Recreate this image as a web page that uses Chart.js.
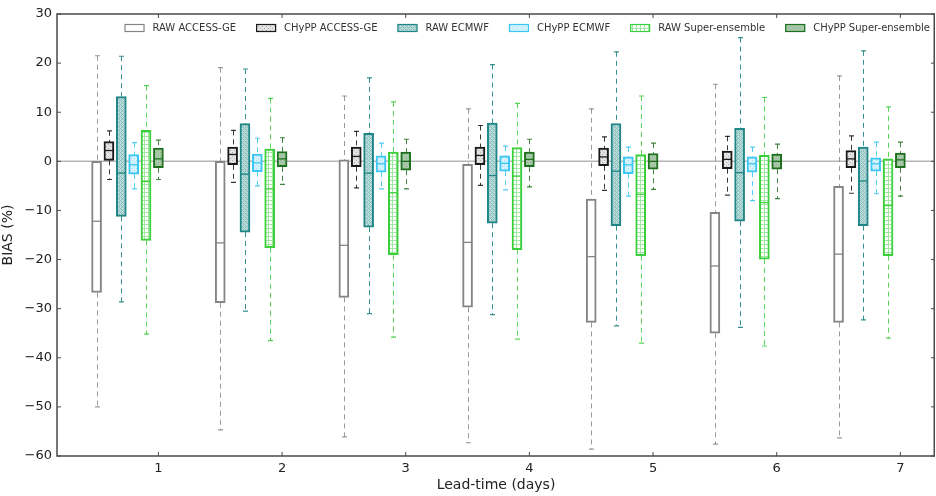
<!DOCTYPE html>
<html>
<head>
<meta charset="utf-8">
<script src="https://cdn.jsdelivr.net/npm/chart.js@4/dist/chart.umd.min.js"></script>
<style>
  body { margin: 0; background: #fff; }
  #wrap { width: 936px; height: 496px; }
</style>
</head>
<body>
<div id="wrap"><canvas id="chart" width="936" height="496"></canvas></div>
<script>
// lead-time days and box offsets per series
const days = [1, 2, 3, 4, 5, 6, 7];
const offsets = [-0.5, -0.4, -0.3, -0.2, -0.1, 0];
const yTicks = [30, 20, 10, 0, -10, -20, -30, -40, -50, -60];

// [whisker low, q1, median, q3, whisker high] for each day
const rawAccess = [
  [-50, -26.7, -12.2, 0, 21.5],
  [-54.7, -28.8, -16.6, 0, 19.1],
  [-56.1, -27.7, -17.1, 0.3, 13.3],
  [-57.3, -29.7, -16.5, -0.6, 10.7],
  [-58.6, -32.8, -19.4, -7.7, 10.7],
  [-57.6, -35, -21.3, -10.4, 15.7],
  [-56.3, -32.8, -18.9, -5.1, 17.4],
];
const chyppAccess = [
  [-3.7, 0.2, 2.2, 4.0, 6.2],
  [-4.3, -0.7, 1.4, 2.9, 6.3],
  [-5.4, -1.1, 1.0, 2.9, 6.1],
  [-4.9, -0.7, 1.2, 2.9, 7.3],
  [-5.9, -0.9, 0.9, 2.7, 5.0],
  [-6.9, -1.5, 0.4, 2.1, 5.1],
  [-6.5, -1.3, 0.5, 2.2, 5.2],
];
const rawEcmwf = [
  [-28.6, -11.2, -2.4, 13.2, 21.4],
  [-30.5, -14.4, -2.6, 7.7, 18.8],
  [-31, -13.4, -2.4, 5.7, 17.0],
  [-31.2, -12.6, -2.9, 7.8, 19.7],
  [-33.5, -13.1, -2.0, 7.7, 22.3],
  [-33.8, -12.2, -2.3, 6.7, 25.2],
  [-32.3, -13.1, -4.0, 2.9, 22.5],
];
const chyppEcmwf = [
  [-5.6, -2.6, -0.7, 1.4, 3.8],
  [-5.0, -2.1, -0.3, 1.5, 4.7],
  [-5.6, -2.2, -0.5, 1.1, 3.7],
  [-5.8, -2.0, -0.4, 1.1, 3.1],
  [-7.1, -2.5, -0.7, 0.9, 2.9],
  [-8.0, -2.2, -0.5, 0.9, 2.9],
  [-6.6, -2.0, -0.5, 0.7, 3.9],
];
const rawSuper = [
  [-35.2, -16.1, -4.1, 6.3, 15.4],
  [-36.5, -17.6, -5.6, 2.5, 12.8],
  [-35.8, -19, -6.4, 1.9, 12.1],
  [-36.2, -18, -3, 2.8, 11.8],
  [-37, -19.2, -6.7, 1.4, 13.3],
  [-37.6, -19.9, -8.4, 1.2, 13.0],
  [-36, -19.2, -9.0, 0.5, 11.1],
];
const chyppSuper = [
  [-3.7, -1.3, 0.5, 2.7, 4.3],
  [-4.7, -1.1, 0.5, 2.0, 4.8],
  [-5.6, -1.8, 0, 1.9, 4.5],
  [-5.2, -1.1, 0.4, 1.9, 4.5],
  [-5.7, -1.6, 0, 1.6, 3.7],
  [-7.6, -1.6, 0, 1.5, 3.5],
  [-7.1, -1.3, 0.3, 1.7, 3.9],
];

// small repeating fills, roughly like the hatches in the figure
function pattern(base, ink, kind) {
  const c = document.createElement('canvas');
  c.width = 4; c.height = 4;
  const g = c.getContext('2d');
  g.fillStyle = base; g.fillRect(0, 0, 4, 4);
  g.fillStyle = ink;
  if (kind === 'grid') {
    g.fillRect(0, 0, 4, 1); g.fillRect(0, 0, 1, 4);
  } else if (kind === 'cross') {
    g.fillRect(0, 0, 1, 1); g.fillRect(2, 2, 1, 1); g.fillRect(1, 1, 1, 1); g.fillRect(3, 3, 1, 1);
    g.fillRect(3, 1, 1, 1); g.fillRect(1, 3, 1, 1);
  } else {
    g.fillRect(0, 0, 1, 1); g.fillRect(2, 2, 1, 1);
  }
  return g.createPattern(c, 'repeat');
}

const series = [
  { label: 'RAW ACCESS-GE', stats: rawAccess, border: '#858585', fill: '#ffffff', whisker: 'rgba(120,120,120,0.75)' },
  { label: 'CHyPP ACCESS-GE', stats: chyppAccess, border: '#1a1a1a', fill: pattern('#e4e4e4', '#b0b0b0', 'dots'), whisker: 'rgba(20,20,20,0.85)' },
  { label: 'RAW ECMWF', stats: rawEcmwf, border: '#1f8585', fill: pattern('#bcdcdc', '#86bdbd', 'cross'), whisker: 'rgba(31,133,133,0.9)' },
  { label: 'CHyPP ECMWF', stats: chyppEcmwf, border: '#3cc6f2', fill: pattern('#d6f3fd', '#9adff6', 'dots'), whisker: 'rgba(60,198,242,0.9)' },
  { label: 'RAW Super-ensemble', stats: rawSuper, border: '#3ccf3c', fill: pattern('#ffffff', '#9fe89f', 'grid'), whisker: 'rgba(60,207,60,0.85)' },
  { label: 'CHyPP Super-ensemble', stats: chyppSuper, border: '#1d701d', fill: pattern('#aac9aa', '#8cb48c', 'dots'), whisker: 'rgba(29,112,29,0.85)' },
];

const boxPlot = {
  id: 'boxPlot',
  beforeDatasetsDraw(chart) {
    const { ctx, chartArea: a, scales: { x, y } } = chart;
    ctx.save();
    ctx.strokeStyle = '#b6b6b6';
    ctx.lineWidth = 1.5;
    ctx.beginPath();
    ctx.moveTo(a.left, y.getPixelForValue(0));
    ctx.lineTo(a.right, y.getPixelForValue(0));
    ctx.stroke();
    series.forEach((s, si) => {
      s.stats.forEach((st, di) => {
        const px = Math.round(x.getPixelForValue(days[di] + offsets[si])) + 0.5;
        const [lo, q1, , q3, hi] = st;
        ctx.strokeStyle = s.whisker;
        ctx.lineWidth = 1;
        ctx.setLineDash([5, 4]);
        ctx.beginPath();
        ctx.moveTo(px, y.getPixelForValue(hi)); ctx.lineTo(px, y.getPixelForValue(q3));
        ctx.moveTo(px, y.getPixelForValue(q1)); ctx.lineTo(px, y.getPixelForValue(lo));
        ctx.stroke();
        ctx.setLineDash([]);
        ctx.lineWidth = 1.2;
        ctx.beginPath();
        [hi, lo].forEach(v => {
          const py = y.getPixelForValue(v);
          ctx.moveTo(px - 2.5, py); ctx.lineTo(px + 2.5, py);
        });
        ctx.stroke();
      });
    });
    ctx.restore();
  },
  afterDatasetsDraw(chart) {
    const { ctx, scales: { x, y } } = chart;
    ctx.save();
    series.forEach((s, si) => {
      ctx.strokeStyle = s.border;
      ctx.lineWidth = 1.3;
      s.stats.forEach((st, di) => {
        const px = x.getPixelForValue(days[di] + offsets[si]);
        const py = y.getPixelForValue(st[2]);
        ctx.beginPath();
        ctx.moveTo(px - 4.5, py); ctx.lineTo(px + 4.5, py);
        ctx.stroke();
      });
    });
    ctx.restore();
  },
  afterDraw(chart) {
    const { ctx, chartArea: a, scales: { x, y } } = chart;
    ctx.save();
    // frame and inward ticks
    ctx.strokeStyle = '#4a4a4a';
    ctx.lineWidth = 1.5;
    ctx.strokeRect(a.left, a.top, a.right - a.left - 0.75, a.bottom - a.top);
    ctx.lineWidth = 1;
    ctx.beginPath();
    days.forEach(d => {
      const px = x.getPixelForValue(d);
      ctx.moveTo(px, a.bottom); ctx.lineTo(px, a.bottom - 4);
      ctx.moveTo(px, a.top); ctx.lineTo(px, a.top + 4);
    });
    yTicks.forEach(v => {
      const py = y.getPixelForValue(v);
      ctx.moveTo(a.left, py); ctx.lineTo(a.left + 4, py);
      ctx.moveTo(a.right, py); ctx.lineTo(a.right - 4, py);
    });
    ctx.stroke();

    // legend inside the top of the plot
    ctx.font = '10px "DejaVu Sans"';
    ctx.textBaseline = 'middle';
    const gap = 20, box = 20, pad = 8;
    const widths = series.map(s => box + pad + ctx.measureText(s.label).width);
    let px = a.right - 5 - widths.reduce((t, w) => t + w, 0) - gap * (series.length - 1);
    const cy = a.top + 14;
    series.forEach((s, i) => {
      ctx.fillStyle = s.fill;
      ctx.fillRect(px, cy - 4, box, 8);
      ctx.strokeStyle = s.border;
      ctx.lineWidth = 1.2;
      ctx.strokeRect(px + 0.5, cy - 3.5, box - 1, 7);
      ctx.fillStyle = '#333';
      ctx.fillText(s.label, px + box + pad, cy + 0.5);
      px += widths[i] + gap;
    });
    ctx.restore();
  }
};

new Chart(document.getElementById('chart'), {
  type: 'bar',
  data: {
    datasets: series.map((s, si) => ({
      label: s.label,
      data: days.map((d, di) => ({ x: d + offsets[si], y: [s.stats[di][1], s.stats[di][3]] })),
      backgroundColor: s.fill,
      borderColor: s.border,
      borderWidth: 2,
      borderSkipped: false,
      barThickness: 10,
      grouped: false,
    })),
  },
  options: {
    responsive: false,
    animation: false,
    layout: { padding: { top: 14, right: 1, left: 0, bottom: 0 } },
    plugins: { legend: { display: false }, tooltip: { enabled: false } },
    scales: {
      x: {
        type: 'linear',
        offset: false,
        min: 0.18,
        max: 7.28,
        afterBuildTicks: s => { s.ticks = days.map(v => ({ value: v })); },
        afterFit: s => { s.height = 40; },
        grid: { display: false, drawTicks: false, offset: false },
        border: { display: false },
        ticks: { color: '#222', padding: 5, font: { family: 'DejaVu Sans', size: 13 } },
        title: { display: true, text: 'Lead-time (days)', color: '#222', font: { family: 'DejaVu Sans', size: 14 }, padding: { top: 0, bottom: 2 } },
      },
      y: {
        min: -60,
        max: 30,
        afterBuildTicks: s => { s.ticks = yTicks.map(v => ({ value: v })); },
        afterFit: s => { s.width = 57; },
        grid: { display: false, drawTicks: false },
        border: { display: false },
        ticks: { color: '#222', padding: 5, font: { family: 'DejaVu Sans', size: 13 },
          callback: v => (v < 0 ? '\u2212' + Math.abs(v) : String(v)) },
        title: { display: true, text: 'BIAS (%)', color: '#222', font: { family: 'DejaVu Sans', size: 14 }, padding: { top: 0, bottom: 4 } },
      },
    },
  },
  plugins: [boxPlot],
});
</script>
</body>
</html>
